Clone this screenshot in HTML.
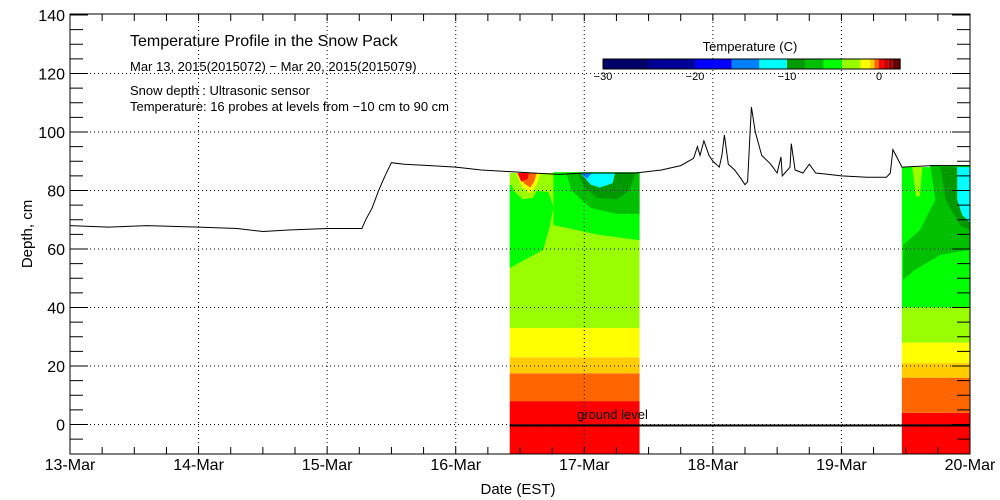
<!DOCTYPE html>
<html><head><meta charset="utf-8">
<style>
html,body{margin:0;padding:0;background:#fff;}
svg{display:block;font-family:"Liberation Sans",sans-serif;}
</style></head>
<body>
<svg id="chart" width="1000" height="500" viewBox="0 0 1000 500">
<g id="contours"></g>
<g id="grid"></g>
<g id="axes"></g>
<g id="series"></g>
<g id="legend"></g>
<text x="130" y="46" font-size="16">Temperature Profile in the Snow Pack</text>
<text x="130" y="71" font-size="13">Mar 13, 2015(2015072) − Mar 20, 2015(2015079)</text>
<text x="130" y="95" font-size="13">Snow depth : Ultrasonic sensor</text>
<text x="130" y="111" font-size="13">Temperature: 16 probes at levels from −10 cm to 90 cm</text>
<text x="518" y="494" font-size="15" text-anchor="middle">Date (EST)</text>
<text transform="translate(32,234) rotate(-90)" font-size="15" text-anchor="middle">Depth, cm</text>
<text x="577" y="419" font-size="13">ground level</text>
</svg>
<script>
const NS="http://www.w3.org/2000/svg";
const dayLabels=["13-Mar","14-Mar","15-Mar","16-Mar","17-Mar","18-Mar","19-Mar","20-Mar"];
const yTicks=[0,20,40,60,80,100,120,140];
const depthT=[0,0.3,0.6,1.0,1.3,1.5,1.7,2.0,2.27,2.3,2.35,2.4,2.45,2.5,2.6,2.8,3.0,3.2,3.4,3.6,3.8,4.0,4.2,4.4,4.6,4.75,4.85,4.88,4.9,4.93,4.97,5.0,5.05,5.07,5.09,5.12,5.17,5.22,5.25,5.27,5.29,5.30,5.33,5.38,5.45,5.5,5.53,5.54,5.56,5.6,5.61,5.64,5.7,5.75,5.8,5.9,6.0,6.2,6.35,6.38,6.40,6.43,6.47,6.7,7.0];
const depthV=[68,67.5,68,67.5,67,66,66.5,67,67,70,74,80,85,89.5,89,88.5,88,87,86.5,86,85.5,86,86,86,87,88.5,91,95,92,97,92,90,88,92,99,89,87,84,82,83,100,108.5,100,92,89,86,91.5,85,86,88,96,87,86,89,86,85.5,85,84.5,84.5,86,94,91.5,88,88.5,88.5];
const cbTemps=[-30,-25,-20,-16,-13,-10,-8,-6,-4,-2,-1,-0.5,0,0.5,1,1.5,2.3];
const cbColors=["#000066","#000099","#0000ff","#0080ff","#00ffff","#009900","#00c000","#00ff00","#99ff00","#ffff00","#ffcc00","#ff6600","#ff0000","#cc0000","#990000","#660000"];
const cbLabels=[-30,-20,-10,0];
const block1=[3.42,4.43];
const block1Tops=[8,17.5,23,33,86,86];
const block2=[6.47,7.0];
const block2Tops=[4,16,21,28,40,88];
const layerColors=["#ff0000","#ff6600","#ffcc00","#ffff00","#99ff00","#00ff00"];

const L=70,R=970,T=14,B=454;
const X=d=>L+d*(R-L)/7;
const Y=v=>424.5-v*2.925;
function el(tag,attrs,parent){const e=document.createElementNS(NS,tag);for(const k in attrs)e.setAttribute(k,attrs[k]);parent.appendChild(e);return e;}
const g=document.getElementById('grid'),ax=document.getElementById('axes'),
 se=document.getElementById('series'),lg=document.getElementById('legend'),ct=document.getElementById('contours');

function block(b,tops,name){
  let prev=-10;
  tops.forEach((t,i)=>{
    const r=el('rect',{x:X(b[0]),y:Y(t),width:X(b[1])-X(b[0]),height:Math.max(0,Y(prev)-Y(t)),fill:layerColors[i]},ct);
    
    
    prev=t;
  });
}
block(block1,block1Tops,'block1');
block(block2,block2Tops,'block2');
function poly(pts,fill,name){const p=el('polygon',{points:pts.map(q=>X(q[0])+','+Y(q[1])).join(' '),fill:fill},ct);
 }
// block1 details
poly([[3.42,53.5],[3.68,59.7],[3.73,67.5],[3.76,74.4],[3.72,79.5],[3.58,80],[3.42,82]],"#00ff00","b1-left-green");
poly([[3.76,86.3],[3.76,68.2],[4.12,64.8],[4.43,63],[4.43,86.3]],"#00ff00","b1-right-green");
poly([[3.86,86],[3.9,80],[4.05,74],[4.25,72],[4.43,72],[4.43,86]],"#00c000","b1-dgreen");
poly([[3.95,86],[4.0,81],[4.1,77.5],[4.25,77],[4.35,80],[4.4,86]],"#009900","b1-darkgreen");
poly([[3.97,86],[4.05,82],[4.12,81],[4.22,82.5],[4.24,86]],"#00ffff","b1-cyan");
poly([[3.97,86],[4.02,84],[4.06,86]],"#0080ff","b1-blue");
poly([[3.44,86],[3.42,84],[3.45,80],[3.52,77],[3.6,77.5],[3.66,82],[3.68,86]],"#99ff00","b1-warm-ring");
poly([[3.47,86],[3.52,81],[3.58,79],[3.63,82],[3.66,86]],"#ffff00","b1-yellow-blob");
poly([[3.49,86],[3.53,82.5],[3.58,81],[3.61,83],[3.63,86]],"#ff6600","b1-orange-blob");
poly([[3.48,86],[3.51,83],[3.56,84],[3.57,86]],"#ff0000","b1-red-blob");
// block2 details
poly([[6.69,88.7],[6.73,76.8],[6.61,66.5],[6.48,61.4],[6.48,49.4],[6.57,52.8],[6.77,58],[7,59.7],[7,88.7]],"#00c000","b2-dgreen");
poly([[6.77,88],[6.81,76.8],[6.92,68.2],[7,66.5],[7,88]],"#009900","b2-darkgreen");
poly([[6.9,88],[6.9,76.8],[6.94,71.6],[7,69],[7,88]],"#00ffff","b2-cyan");
poly([[6.55,88],[6.58,78],[6.61,78],[6.63,88]],"#99ff00","b2-streak");

// grid
[1,2,3,4,5,6].forEach(d=>{const l=el('line',{x1:X(d),x2:X(d),y1:T,y2:B,stroke:'#000','stroke-dasharray':'1 3'},g);
 });
[0,20,40,60,80,100,120].forEach(v=>{const l=el('line',{x1:L,x2:R,y1:Y(v),y2:Y(v),stroke:'#000','stroke-dasharray':'1 3'},g);
 });

const gl=el('line',{x1:X(block1[0]),x2:R,y1:Y(0)+1,y2:Y(0)+1,stroke:'#000','stroke-width':2},se);


const fr=el('rect',{x:L,y:T,width:R-L,height:B-T,fill:'none',stroke:'#000','stroke-width':1},ax);

for(let v=-5;v<=140;v+=5){const len=v%20===0?18:13;
 el('line',{x1:L,x2:L+len,y1:Y(v),y2:Y(v),stroke:'#000'},ax);
 el('line',{x1:R,x2:R-len,y1:Y(v),y2:Y(v),stroke:'#000'},ax);}
for(let q=1;q<28;q++){el('line',{x1:X(q/4),x2:X(q/4),y1:B,y2:B-7,stroke:'#000'},ax);el('line',{x1:X(q/4),x2:X(q/4),y1:T,y2:T+7,stroke:'#000'},ax);}
yTicks.forEach(v=>{const t=el('text',{x:L-5,y:Y(v)+6,'font-size':16,'text-anchor':'end'},ax);t.textContent=v;
 });
dayLabels.forEach((s,i)=>{const t=el('text',{x:X(i),y:B+16,'font-size':16,'text-anchor':'middle'},ax);t.textContent=s;
 });

const path=el('polyline',{points:depthT.map((d,i)=>X(d).toFixed(1)+','+Y(depthV[i]).toFixed(1)).join(' '),fill:'none',stroke:'#000','stroke-width':1},se);


const CX=t=>603+(t+30)*9.2;
cbColors.forEach((c,i)=>{const r=el('rect',{x:CX(cbTemps[i]),y:59,width:CX(cbTemps[i+1])-CX(cbTemps[i]),height:10,fill:c},lg);
 });
el('rect',{x:CX(-30),y:59,width:CX(2.3)-CX(-30),height:10,fill:'none',stroke:'#000'},lg);
cbLabels.forEach(v=>{const t=el('text',{x:CX(v),y:80,'font-size':11,'text-anchor':'middle'},lg);t.textContent=v<0?'−'+(-v):v;
 });
const ct2=el('text',{x:750,y:51,'font-size':13,'text-anchor':'middle'},lg);ct2.textContent='Temperature (C)';

</script>
</body></html>
